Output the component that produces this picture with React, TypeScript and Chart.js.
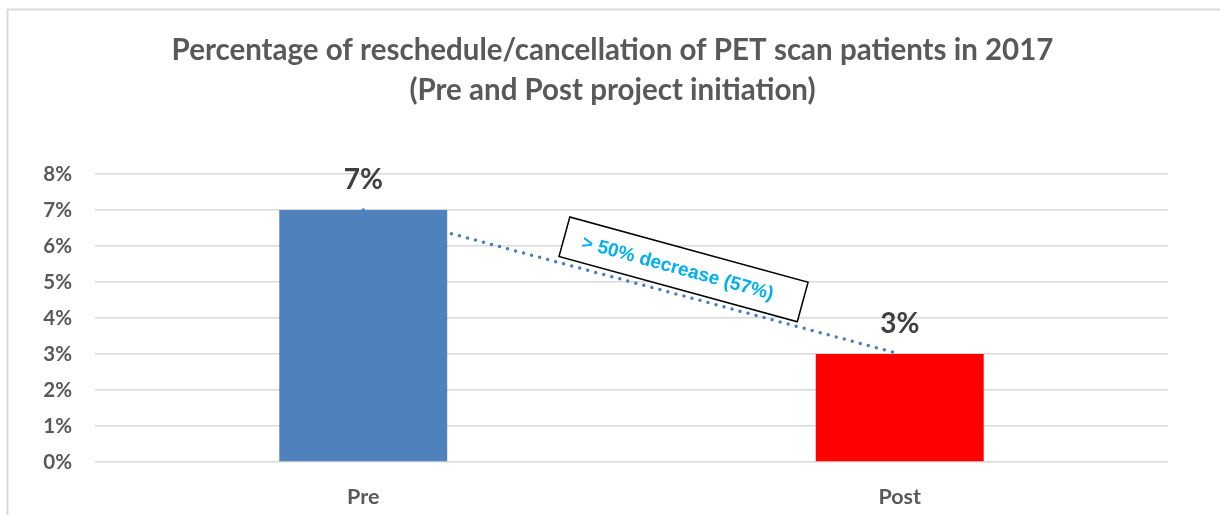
import React, { useEffect, useRef } from 'react';
import { Chart, registerables } from 'chart.js';

Chart.register(...registerables);

const categories: string[] = ['Pre', 'Post'];
const rates: number[] = [0.07, 0.03];
const barColors: string[] = ['#4F81BD', '#FF0000'];
const valueLabels: string[] = ['7%', '3%'];
const yTickValues: number[] = [0, 0.01, 0.02, 0.03, 0.04, 0.05, 0.06, 0.07, 0.08];
const yTickLabels: string[] = ['0%', '1%', '2%', '3%', '4%', '5%', '6%', '7%', '8%'];
const titleLines: string[] = [
  'Percentage of reschedule/cancellation of PET scan patients in 2017',
  '(Pre and Post project initiation)',
];
const annotationText = '> 50% decrease (57%)';

const FONT = 'Lato, "Open Sans", sans-serif';

const decorPlugin = {
  id: 'decor',
  beforeDraw(chart: any) {
    const ctx = chart.ctx;
    ctx.save();
    ctx.fillStyle = '#FFFFFF';
    ctx.fillRect(0, 0, chart.width, chart.height);
    ctx.strokeStyle = '#D9D9D9';
    ctx.lineWidth = 2;
    ctx.strokeRect(7.5, 9.5, chart.width + 20, chart.height + 20);
    // title
    ctx.fillStyle = '#595959';
    ctx.font = `bold 29.5px ${FONT}`;
    ctx.textAlign = 'center';
    ctx.textBaseline = 'middle';
    const tx = (chart.width + 5) / 2;
    titleLines.forEach((line, i) => {
      ctx.fillText(line, tx, 50 + i * 40);
    });
    ctx.restore();
  },
  afterDatasetsDraw(chart: any) {
    const ctx = chart.ctx;
    const xs = chart.scales.x;
    const ys = chart.scales.y;
    ctx.save();
    // value labels
    ctx.font = `bold 28px ${FONT}`;
    ctx.fillStyle = '#404040';
    ctx.textAlign = 'center';
    ctx.textBaseline = 'middle';
    rates.forEach((v, i) => {
      const x = xs.getPixelForValue(i);
      const y = ys.getPixelForValue(v);
      ctx.fillText(valueLabels[i], x, y - 30);
    });
    // annotation box
    const cx = xs.getPixelForValue(0.597);
    const cy = ys.getPixelForValue(0.0535);
    const angle = (15.3 * Math.PI) / 180;
    ctx.translate(cx, cy);
    ctx.rotate(angle);
    const w = 247;
    const h = 41;
    ctx.fillStyle = '#FFFFFF';
    ctx.fillRect(-w / 2, -h / 2, w, h);
    ctx.strokeStyle = '#000000';
    ctx.lineWidth = 1.5;
    ctx.strokeRect(-w / 2, -h / 2, w, h);
    ctx.fillStyle = '#00B0F0';
    ctx.font = 'bold 19px "Liberation Sans", Arial, sans-serif';
    ctx.textAlign = 'center';
    ctx.textBaseline = 'middle';
    ctx.fillText(annotationText, -6, 1);
    ctx.restore();
  },
};

export default function App() {
  const ref = useRef<HTMLCanvasElement | null>(null);
  useEffect(() => {
    document.body.style.margin = '0';
    const canvas = ref.current;
    if (!canvas) return;
    const chart = new Chart(canvas, {
      type: 'bar',
      data: {
        labels: categories,
        datasets: [
          {
            type: 'line',
            data: rates,
            order: 2,
            borderColor: '#4A7EBB',
            borderWidth: 3.5,
            borderDash: [0, 8.3],
            borderCapStyle: 'round',
            pointRadius: 0,
            fill: false,
          } as any,
          {
            type: 'bar',
            data: rates,
            order: 1,
            backgroundColor: barColors,
            categoryPercentage: 1,
            barPercentage: 0.313,
          } as any,
        ],
      },
      options: {
        responsive: false,
        animation: false,
        layout: { padding: { left: 0, right: 52, top: 174, bottom: 0 } },
        plugins: {
          legend: { display: false },
          tooltip: { enabled: false },
          title: { display: false },
        },
        scales: {
          x: {
            grid: { display: false },
            border: { display: false },
            ticks: {
              color: '#595959',
              font: { family: FONT, size: 21.5, weight: 'bold' },
              padding: 14,
            },
            afterFit: (s: any) => {
              s.height = 53;
            },
          },
          y: {
            min: 0,
            max: 0.08,
            afterBuildTicks: (s: any) => {
              s.ticks = yTickValues.map((v) => ({ value: v }));
            },
            grid: { color: '#D9D9D9', lineWidth: 1.5, drawTicks: false },
            border: { display: false },
            ticks: {
              color: '#595959',
              font: { family: FONT, size: 20.5, weight: 'bold' },
              padding: 23,
              callback: (_v: any, i: number) => yTickLabels[i],
            },
            afterFit: (s: any) => {
              s.width = 95;
            },
          },
        },
      } as any,
      plugins: [decorPlugin],
    });
    return () => chart.destroy();
  }, []);
  return <canvas ref={ref} width={1220} height={515} style={{ display: 'block' }} />;
}
